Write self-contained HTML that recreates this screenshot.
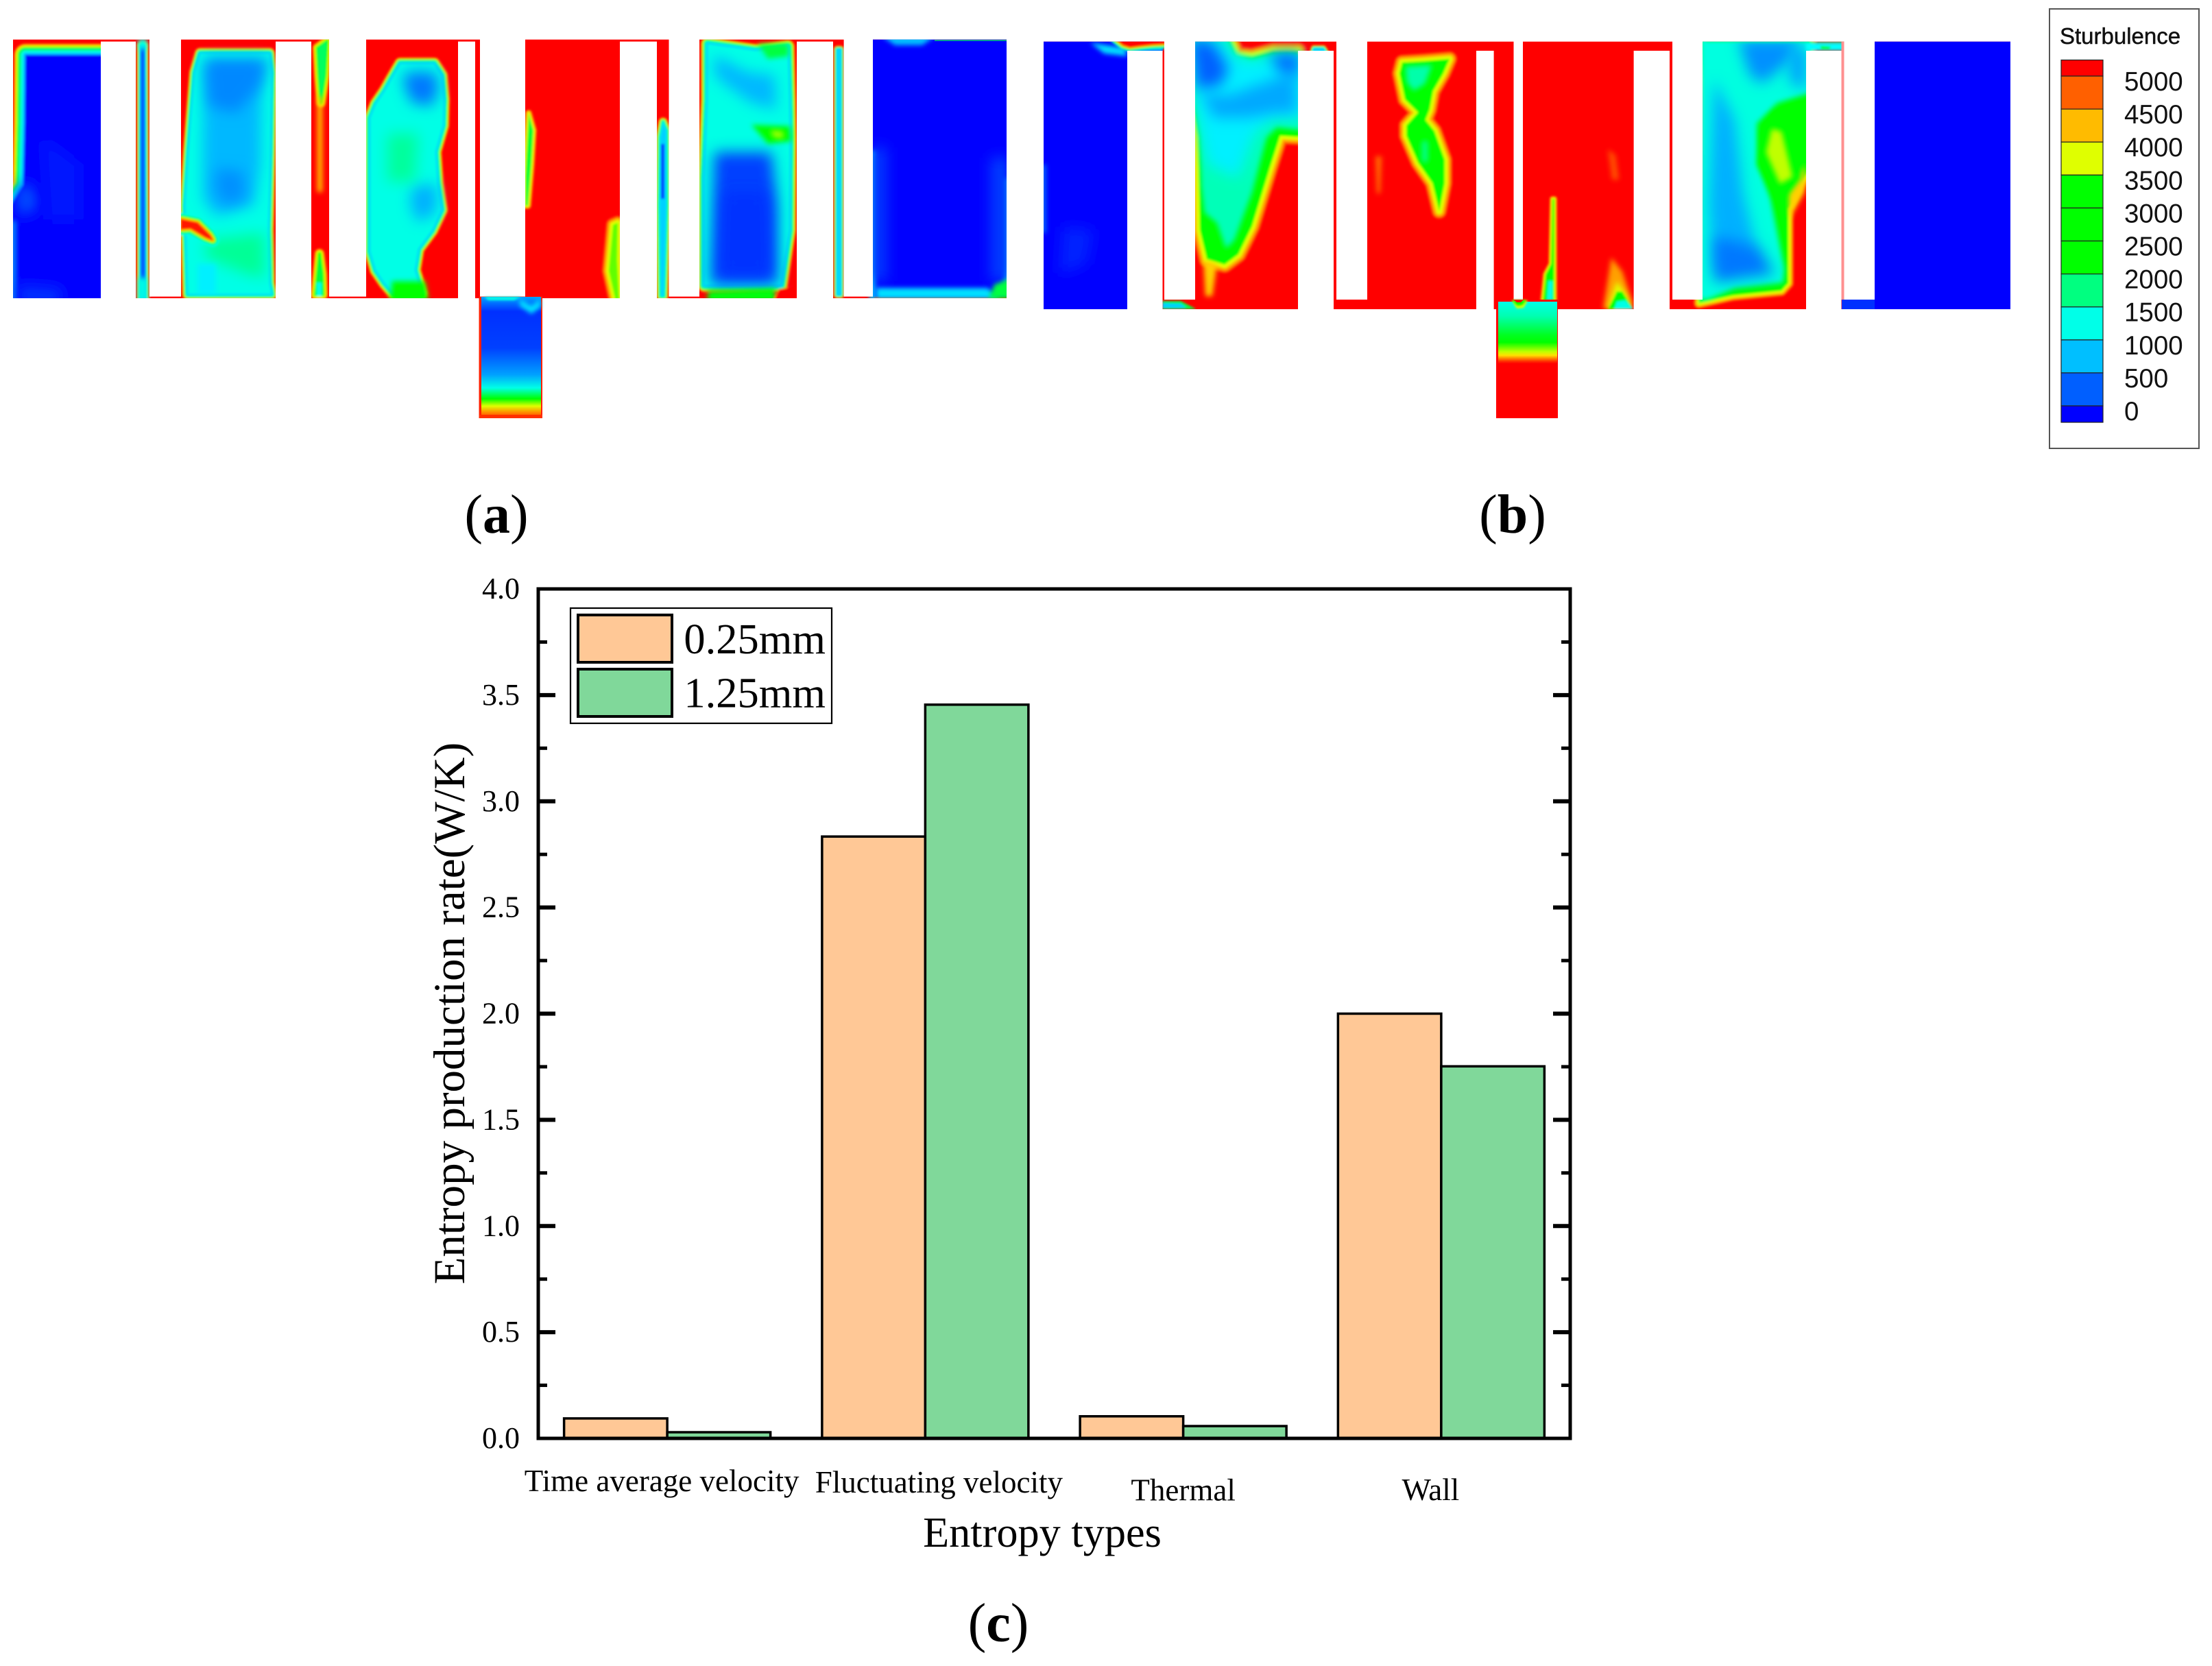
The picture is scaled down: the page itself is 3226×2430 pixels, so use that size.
<!DOCTYPE html>
<html lang="en">
<head>
<meta charset="utf-8">
<title>Turbulence contours and entropy production</title>
<style>
html,body{margin:0;padding:0;background:#fff;}
svg{display:block;}
.serif{font-family:"Liberation Serif","Times New Roman",serif;fill:#000;}
.sans{font-family:"Liberation Sans",Arial,sans-serif;fill:#111;}
.blob{stroke-linejoin:round;}
</style>
</head>
<body>
<svg id="fig" xmlns="http://www.w3.org/2000/svg" width="3226" height="2430" viewBox="0 0 3226 2430">
<defs>
<filter id="blur" filterUnits="userSpaceOnUse" x="0" y="0" width="3226" height="700"><feGaussianBlur stdDeviation="1.5"/></filter>
<filter id="soft" filterUnits="userSpaceOnUse" x="0" y="0" width="3226" height="700"><feGaussianBlur stdDeviation="10"/></filter>
<filter id="soft2" filterUnits="userSpaceOnUse" x="0" y="0" width="3226" height="700"><feGaussianBlur stdDeviation="3.5"/></filter>
<clipPath id="clip-a"><rect x="19" y="57.6" width="1449" height="377.4"/></clipPath>
<clipPath id="clip-b"><rect x="1522" y="60.6" width="1410" height="390.4"/></clipPath>
<linearGradient id="box-a-grad" gradientUnits="userSpaceOnUse" x1="0" y1="433" x2="0" y2="610">
<stop offset="0" stop-color="#00a0ff"/><stop offset=".12" stop-color="#0030ff"/><stop offset=".42" stop-color="#0040ff"/><stop offset=".64" stop-color="#00a0ff"/><stop offset=".75" stop-color="#00ffe6"/><stop offset=".84" stop-color="#00ff00"/><stop offset=".9" stop-color="#e0ff00"/><stop offset=".95" stop-color="#ff9000"/><stop offset="1" stop-color="#ff3000"/>
</linearGradient>
<linearGradient id="box-b-grad" gradientUnits="userSpaceOnUse" x1="0" y1="437" x2="0" y2="610">
<stop offset="0" stop-color="#00fff0"/><stop offset=".14" stop-color="#00ffb0"/><stop offset=".3" stop-color="#00ff20"/><stop offset=".36" stop-color="#00ff00"/><stop offset=".44" stop-color="#c0ff00"/><stop offset=".47" stop-color="#ffe000"/><stop offset=".52" stop-color="#ff3000"/><stop offset=".54" stop-color="#ff0000"/><stop offset="1" stop-color="#ff0000"/>
</linearGradient>
</defs>
<rect x="0" y="0" width="3226" height="2430" fill="#fff"/>

<!-- PANEL A -->
<g>
<g clip-path="url(#clip-a)">
<rect x="19" y="57.6" width="1449" height="377.4" fill="#ff0000"/>

<g filter="url(#blur)">
<path class="blob" data-w="1" fill="#0000ff" d="M37,80 L165,80 L165,475 L0,475 L0,345 L15,300 L34,270 L36,180 Z"/>
<path fill="#0050ff" filter="url(#soft)" d="M24,268 L50,272 L56,305 L30,315 L24,310 Z"/>
<path fill="#0018ff" filter="url(#soft)" d="M62,200 L115,240 L115,320 L70,320 Z"/>
<path fill="#00a0ff" filter="url(#soft2)" d="M16,322 L23,322 L23,440 L16,440 Z"/>
<path fill="#0030ff" filter="url(#soft)" d="M25,415 L90,420 L90,445 L25,445 Z"/>
</g>

<g filter="url(#blur)">
<path class="blob" data-w=".34" fill="#0060ff" d="M205,66 L211,66 L212,400 L212,440 L205,440 Z"/>
<path fill="#00ffe6" filter="url(#soft2)" d="M202,56 L214,56 L214,72 L202,72 Z"/>
<path fill="#00ffe6" filter="url(#soft2)" d="M201,405 L215,405 L215,440 L201,440 Z"/>
</g>

<g filter="url(#blur)">
<path class="blob" data-w=".5" fill="#00ffe6" d="M292,78 L393,78 L396,106 L394,221 L391,336 L393,413 L396,429 L274,429 L272,360 L270,300 L275,221 L284,106 Z"/>
<path fill="#00b8ff" filter="url(#soft)" d="M298,95 L382,95 L380,240 L370,300 L315,315 L296,290 L296,200 Z"/>
<path fill="#0088ff" filter="url(#soft)" d="M298,85 L392,85 L380,125 L345,165 L305,155 Z"/>
<path fill="#0090ff" filter="url(#soft)" d="M316,245 L355,250 L358,290 L328,300 L314,278 Z"/>
<path fill="#00ff96" filter="url(#soft)" d="M300,350 L385,340 L386,405 L360,400 L300,375 Z"/>
<path fill="#00f0ff" filter="url(#soft2)" d="M288,385 L315,385 L315,428 L288,428 Z"/>
<path class="blob" data-hot="1" data-w=".8" fill="#ff1800" d="M264,320 L288,325 L306,343 L310,350 L300,346 L278,333 L264,334 Z"/>
</g>

<g filter="url(#blur)">
<path class="blob" data-from="3" data-w="1" fill="#00ff60" d="M463,70 L477,60 L474,110 L468,150 L465,110 Z"/>
<path fill="#ffd000" filter="url(#soft2)" d="M463,140 L470,140 L470,280 L463,280 Z"/>
<path class="blob" data-from="3" data-w="1" fill="#00ff40" d="M466,370 L470,400 L471,430 L460,430 L463,400 Z"/>
<path fill="#00ffe6" d="M462,412 L469,412 L469,432 L462,432 Z"/>
</g>

<g filter="url(#blur)">
<path class="blob" data-w=".55" fill="#00ffe6" d="M584,93 L633,93 L644,110 L647,145 L646,183 L635,221 L638,267 L644,306 L630,336 L610,363 L605,394 L615,428 L574,428 L561,413 L548,394 L540,367 L540,260 L540,172 L548,152 L561,133 L574,110 Z"/>
<path fill="#0078ff" filter="url(#soft)" d="M592,105 L635,105 L640,130 L630,155 L600,150 L588,120 Z"/>
<path fill="#00b0ff" filter="url(#soft)" d="M602,270 L638,270 L636,310 L610,325 L598,300 Z"/>
<path fill="#00ff9c" filter="url(#soft)" d="M565,195 L610,195 L605,265 L565,265 Z"/>
<path fill="#00ff00" filter="url(#soft2)" d="M572,410 L620,410 L625,440 L568,440 Z"/>
</g>

<g filter="url(#blur)">
<path class="blob" data-from="4" data-w="1" fill="#00ff30" d="M771,165 L778,190 L775,240 L770,300 L766,300 L766,260 L769,200 Z"/>
<path class="blob" data-from="4" data-w="2" fill="#60ff00" d="M894,328 L901,325 L900,380 L903,440 L898,440 L888,395 Z"/>
</g>

<g filter="url(#blur)">
<path class="blob" data-from="1" data-w=".5" fill="#00d0ff" d="M967,178 L972,190 L972,300 L968,432 L964,432 L962,300 L963,200 Z"/>
<path fill="#0030ff" d="M964,210 L969,210 L969,290 L964,290 Z"/>
</g>

<g filter="url(#blur)">
<path class="blob" data-w=".6" fill="#00ffe6" d="M1032,64 L1103,74 L1149,68 L1151,145 L1152,202 L1151,336 L1139,416 L1027,416 L1027,260 L1032,145 Z"/>
<path fill="#00b8ff" filter="url(#soft)" d="M1042,80 L1090,105 L1130,110 L1132,160 L1095,150 L1060,125 L1042,110 Z"/>
<path fill="#0040ff" filter="url(#soft)" d="M1042,222 L1125,222 L1134,300 L1134,415 L1036,415 Z"/>
<path fill="#0030ff" filter="url(#soft)" d="M1056,280 L1118,280 L1122,400 L1052,400 Z"/>
<path fill="#00ff40" filter="url(#soft2)" d="M1105,64 L1150,64 L1150,82 L1120,86 Z"/>
<path fill="#00ff00" filter="url(#soft2)" d="M1096,182 L1152,184 L1154,206 L1120,210 Z"/>
<path fill="#a0ff00" filter="url(#soft2)" d="M1124,190 L1142,192 L1142,202 L1128,200 Z"/>
<path fill="#00ff10" filter="url(#soft2)" d="M1032,424 L1130,420 L1132,440 L1032,440 Z"/>
<path fill="#ff0000" d="M1136,422 L1168,416 L1168,440 L1128,440 Z"/>
</g>

<g filter="url(#blur)">
<path class="blob" data-w=".32" fill="#00d8ff" d="M1221,72 L1226,72 L1226,430 L1221,430 Z"/>
</g>

<g>
<rect x="1273" y="57.6" width="195" height="375" fill="#0000ff"/>
<path fill="#00c0ff" filter="url(#soft2)" d="M1285,52 L1365,52 L1345,66 L1305,66 Z"/>
<path fill="#00a090" d="M1363,58 L1468,58 L1468,60 L1363,60 Z"/>
<path fill="#00c0ff" filter="url(#soft2)" d="M1268,220 L1277,220 L1277,440 L1268,440 Z"/>
<path fill="#00c0ff" filter="url(#soft2)" d="M1464,260 L1474,260 L1474,415 L1464,415 Z"/>
<path fill="#0040ff" filter="url(#soft)" d="M1270,215 L1292,215 L1292,410 L1270,410 Z"/>
<path fill="#0040ff" filter="url(#soft)" d="M1445,230 L1472,230 L1472,410 L1445,410 Z"/>
<path fill="#00e0ff" filter="url(#soft2)" d="M1278,420 L1440,420 L1460,436 L1278,436 Z"/>
<path fill="#00ff40" filter="url(#soft2)" d="M1450,415 L1474,406 L1474,436 L1442,436 Z"/>
</g>
</g>

<g fill="#fff">
<rect x="147" y="60.6" width="51" height="375"/>
<rect x="218" y="56" width="46" height="376.6"/>
<rect x="402" y="60.6" width="52" height="375"/>
<rect x="480" y="56" width="54" height="376.6"/>
<rect x="668" y="60.6" width="25" height="375"/>
<rect x="700" y="56" width="66" height="376.6"/>
<rect x="904" y="60.6" width="54" height="375"/>
<rect x="975.5" y="56" width="44.5" height="376.6"/>
<rect x="1162" y="60.6" width="53" height="375"/>
<rect x="1230.6" y="56" width="42.4" height="376.6"/>
</g>

<g>
<rect x="698.5" y="432.6" width="92.5" height="177.4" fill="#ff2000"/>
<rect x="702" y="433" width="87" height="172" fill="url(#box-a-grad)"/>
<path fill="#00ffe6" filter="url(#blur)" d="M706,433 L760,433 L750,438 L712,438 Z"/>
<path fill="#00e0ff" filter="url(#soft2)" d="M758,436 L775,446 L788,436 L788,448 L775,458 L758,446 Z"/>
<rect x="699" y="605" width="92" height="5" fill="#ff3000"/>
</g>
</g>

<!-- PANEL B -->
<g>
<g clip-path="url(#clip-b)">
<rect x="1522" y="60.6" width="1410" height="390.4" fill="#ff0000"/>

<g>
<rect x="1522" y="60.6" width="173.5" height="390.4" fill="#0000ff"/>
<rect x="1644" y="66" width="52" height="8" fill="#00c0ff" filter="url(#blur)"/>
<path fill="#00e0ff" filter="url(#soft2)" d="M1590,62 L1640,70 L1644,82 L1610,78 Z"/>
<path fill="#0020ff" filter="url(#soft)" d="M1550,330 L1595,335 L1585,385 L1545,400 Z"/>
<path fill="#0060ff" filter="url(#soft2)" d="M1516,240 L1526,240 L1526,340 L1516,340 Z"/>
<g filter="url(#blur)"><path class="blob" data-hot="1" data-w=".55" fill="#ff0000" d="M1624,55 L1700,55 L1700,64 L1681,65 L1663,67 L1648,69 L1638,66 Z"/></g>
</g>

<g filter="url(#blur)">
<path fill="#00ff40" d="M1695,439 L1722,439 L1745,451 L1695,451 Z"/>
<path fill="#00d0ff" d="M1695,442 L1722,443 L1730,449 L1695,449 Z"/>
</g>

<g filter="url(#blur)">
<path class="blob" data-from="4" data-w="2.4" fill="#00ff00" d="M1738,55 L1793,55 L1804,80 L1826,82 L1857,74 L1893,74 L1900,200 L1867,198 L1852,245 L1826,330 L1806,371 L1786,386 L1760,378 L1750,336 L1747,200 L1738,145 Z"/>
<path fill="#ffd000" filter="url(#soft2)" d="M1755,380 L1775,385 L1768,432 L1758,432 Z"/>
<path fill="#00ffb8" filter="url(#soft2)" d="M1738,50 L1790,50 L1802,78 L1826,86 L1857,78 L1900,78 L1900,190 L1862,185 L1847,200 L1826,280 L1800,350 L1788,362 L1775,325 L1757,310 L1752,270 L1750,200 L1740,150 Z"/>
<path fill="#00f0ff" filter="url(#soft)" d="M1740,58 L1786,58 L1798,82 L1826,90 L1857,82 L1900,82 L1900,175 L1858,172 L1830,195 L1805,260 L1762,240 L1752,200 L1742,140 Z"/>
<path fill="#00a8ff" filter="url(#soft)" d="M1752,135 L1790,140 L1830,125 L1890,105 L1892,165 L1860,165 L1820,172 L1770,172 Z"/>
<path fill="#0060ff" filter="url(#soft)" d="M1735,55 L1770,62 L1792,100 L1780,125 L1745,130 Z"/>
<path fill="#0070ff" filter="url(#soft)" d="M1850,78 L1896,76 L1894,110 L1868,108 Z"/>
</g>

<g filter="url(#blur)">
<path class="blob" data-from="1" data-w=".3" fill="#00d0ff" d="M1916,70 L1930,70 L1934,76 L1914,76 Z"/>
</g>

<g filter="url(#blur)">
<path class="blob" data-from="4" data-w="2.2" fill="#00ff00" d="M2045,91 L2077,89 L2114,86 L2105,107 L2090,133 L2085,160 L2079,175 L2092,191 L2107,233 L2107,267 L2099,308 L2089,267 L2068,237 L2051,198 L2051,183 L2068,164 L2049,145 L2041,107 Z"/>
<path fill="#00ffaa" filter="url(#soft2)" d="M2050,97 L2088,95 L2078,122 L2062,132 L2052,120 Z"/>
<path fill="#00ff90" d="M2074,206 L2082,206 L2082,236 L2074,236 Z" filter="url(#soft2)"/>
<path fill="#ff7000" filter="url(#soft2)" d="M2006,228 L2015,228 L2013,282 L2008,282 Z"/>
</g>

<g filter="url(#blur)">
<path class="blob" data-from="4" data-w=".8" fill="#00ff00" d="M2264,290 L2267,290 L2267,440 L2250,440 L2254,400 L2262,385 Z"/>
<path fill="#00ffe6" d="M2258,410 L2264,410 L2264,437 L2256,437 Z"/>
<path fill="#ff5000" filter="url(#soft2)" d="M2345,218 L2356,226 L2361,262 L2351,262 Z"/>
<path fill="#ffa000" filter="url(#soft2)" d="M2350,376 L2366,396 L2382,445 L2338,451 Z"/>
<path fill="#e0ff00" filter="url(#soft2)" d="M2358,410 L2372,430 L2380,451 L2344,451 Z"/>
<path fill="#00ff00" d="M2358,425 L2366,425 L2382,451 L2345,451 Z"/>
<path fill="#00ffe6" d="M2358,440 L2370,438 L2382,451 L2354,451 Z"/>
</g>

<g filter="url(#blur)">
<path class="blob" data-from="4" data-w="1.6" fill="#00ff00" d="M2478,55 L2640,55 L2640,244 L2623,275 L2608,305 L2608,413 L2598,424 L2527,431 L2501,437 L2478,442 L2487,298 L2487,145 Z"/>
<path fill="#ffd000" filter="url(#soft2)" d="M2607,280 L2622,262 L2632,240 L2632,280 L2615,310 L2610,320 Z"/>
<path fill="#00ffe0" filter="url(#soft2)" d="M2480,55 L2640,55 L2640,135 L2592,150 L2562,180 L2564,240 L2582,290 L2602,392 L2600,412 L2530,420 L2490,437 L2478,437 Z"/>
<path fill="#00b0ff" filter="url(#soft)" d="M2500,115 L2530,175 L2542,280 L2562,365 L2500,400 L2492,300 Z"/>
<path fill="#0090ff" filter="url(#soft)" d="M2535,58 L2625,58 L2610,90 L2570,122 L2552,110 Z"/>
<path fill="#00a0ff" filter="url(#soft)" d="M2610,70 L2634,70 L2634,130 L2610,120 Z"/>
<path fill="#0078ff" filter="url(#soft)" d="M2500,345 L2565,360 L2588,400 L2500,412 Z"/>
<path fill="#00ff00" filter="url(#soft2)" d="M2588,158 L2606,175 L2626,260 L2608,285 L2600,330 L2582,280 L2562,240 L2565,190 Z"/>
<path fill="#c0ff00" filter="url(#soft2)" d="M2584,188 L2598,192 L2614,258 L2596,268 L2576,222 Z"/>
<path fill="#00ffff" filter="url(#blur)" d="M2634,62 L2690,62 L2690,74 L2634,74 Z"/>
<path fill="#00ff20" d="M2655,67 L2670,68 L2668,72 L2656,72 Z"/>
<path fill="#00ff40" d="M2488,60.6 L2690,60.6 L2690,62 L2488,62 Z"/>
</g>

<g>
<rect x="2685.5" y="60.6" width="4" height="376.4" fill="#ff9090"/>
<rect x="2686" y="437" width="48" height="14" fill="#0030ff"/>
</g>

<g>
<rect x="2734" y="60.6" width="198" height="390.4" fill="#0000ff"/>
</g>
</g>

<g fill="#fff">
<rect x="1644" y="74" width="51.5" height="378"/>
<rect x="1698" y="59" width="45" height="378"/>
<rect x="1893" y="74" width="52" height="378"/>
<rect x="1949" y="59" width="45" height="378"/>
<rect x="2153" y="74" width="25.6" height="378"/>
<rect x="2207.5" y="59" width="13.5" height="378"/>
<rect x="2382.6" y="74" width="52.4" height="378"/>
<rect x="2439" y="59" width="44" height="378"/>
<rect x="2634" y="74" width="51.5" height="378"/>
<rect x="2689.5" y="59" width="44.5" height="378"/>
</g>

<g>
<rect x="2182" y="437" width="90" height="173" fill="#ff0000"/>
<rect x="2185" y="440" width="86" height="100" fill="url(#box-b-grad)"/>
<path fill="#e0ff00" filter="url(#blur)" d="M2205,438 L2228,438 L2222,449 L2212,450 Z"/>
<path fill="#00ff00" filter="url(#blur)" d="M2205,438 L2226,438 L2220,445 L2213,446 Z"/>
<path fill="#ff0000" d="M2207,437 L2222,437 L2218,441 L2212,441 Z"/>
</g>
</g>

<!-- LEGEND FOR CONTOURS -->
<g id="colorbar">
<rect x="2989" y="13" width="218" height="641" fill="#fff" stroke="#555" stroke-width="2"/>
<text class="sans" x="3004" y="64" font-size="33" stroke="#111" stroke-width=".5">Sturbulence</text>
</g>

<!-- PANEL LABELS -->
<text class="serif" x="724" y="777" font-size="80" text-anchor="middle">(<tspan font-weight="bold">a</tspan>)</text>
<text class="serif" x="2206" y="777" font-size="80" text-anchor="middle">(<tspan font-weight="bold">b</tspan>)</text>
<text class="serif" x="1456" y="2394" font-size="80" text-anchor="middle">(<tspan font-weight="bold">c</tspan>)</text>

<!-- BAR CHART -->
<g id="chart"></g>
<text class="serif" transform="rotate(-90 677 1478)" x="677" y="1478" font-size="65" text-anchor="middle">Entropy production rate(W/K)</text>
<text class="serif" x="1520" y="2256" font-size="62.3" text-anchor="middle">Entropy types</text>
</svg>

<script>
/* chart data */
const categories = ["Time average velocity", "Fluctuating velocity", "Thermal", "Wall"];
const seriesNames = ["0.25mm", "1.25mm"];
const series025 = [0.094, 2.834, 0.104, 2.0];
const series125 = [0.029, 3.455, 0.058, 1.752];
const yTickValues = [0, 0.5, 1, 1.5, 2, 2.5, 3, 3.5, 4];
const yTickLabels = ["0.0", "0.5", "1.0", "1.5", "2.0", "2.5", "3.0", "3.5", "4.0"];
const contourLevels = [5000, 4500, 4000, 3500, 3000, 2500, 2000, 1500, 1000, 500, 0];
const contourColors = ["#ff0000", "#ff6000", "#ffbb00", "#dfff00", "#00ff00", "#00ff00", "#00ff00", "#00ff80", "#00ffe8", "#00bfff", "#005fff", "#0000ff"];

const NS = "http://www.w3.org/2000/svg";
function mk(parent, tag, attrs, text) {
  const el = document.createElementNS(NS, tag);
  for (const k in attrs) el.setAttribute(k, attrs[k]);
  if (text !== undefined) el.textContent = text;
  parent.appendChild(el);
  return el;
}

/* contour bands around traced shapes */
const coldBands = [["#00bfff", 3], ["#00ffe6", 6], ["#00ff80", 9], ["#00ff00", 11.5], ["#e0ff00", 13.5], ["#ffb000", 15], ["#ff6000", 16.5]];
const hotBands = [["#ff6000", 1.5], ["#ffb000", 3], ["#e0ff00", 4.5], ["#00ff00", 7], ["#00ff80", 9], ["#00ffe6", 12]];
document.querySelectorAll("path.blob").forEach(function (p) {
  const w = parseFloat(p.getAttribute("data-w") || "1");
  const from = parseInt(p.getAttribute("data-from") || "0", 10);
  const list = p.hasAttribute("data-hot") ? hotBands : coldBands;
  const base = from > 0 ? list[from - 1][1] : 0;
  for (let i = list.length - 1; i >= from; i--) {
    const band = document.createElementNS(NS, "path");
    band.setAttribute("d", p.getAttribute("d"));
    band.setAttribute("fill", "none");
    band.setAttribute("stroke", list[i][0]);
    band.setAttribute("stroke-width", 2 * w * (list[i][1] - base));
    band.setAttribute("stroke-linejoin", "round");
    
    
    p.parentNode.insertBefore(band, p);
  }
  
  
});

/* contour legend */
const cb = document.getElementById("colorbar");
const levelY = function (v) { return 592 - (v / 5000) * 481; };
contourColors.forEach(function (c, i) {
  const top = i === 0 ? levelY(contourLevels[0]) - 23.5 : levelY(contourLevels[i - 1]);
  const bot = i === contourLevels.length ? levelY(0) + 24 : levelY(contourLevels[i]);
  const seg = mk(cb, "rect", { x: 3006, y: top, width: 61, height: bot - top, fill: c, stroke: "#222", "stroke-width": 1.2 });
  
  
});
contourLevels.forEach(function (v) {
  const t = mk(cb, "text", { x: 3098, y: levelY(v) + 21, "font-size": 38.5, class: "sans" }, String(v));
  
  
});

/* bar chart */
const chart = document.getElementById("chart");
const plotLeft = 785, plotRight = 2290, plotTop = 859, plotBottom = 2098, yMax = 4;
const yScale = function (v) { return plotBottom - (v / yMax) * (plotBottom - plotTop); };
const xBand = (plotRight - plotLeft) / categories.length;
const xCenter = function (i) { return plotLeft + (i + 0.5) * xBand; };
const barWidth = xBand * 0.4;
const seriesColors = ["#ffc896", "#80d89a"];
const labelShiftX = [-8, 20, 0, -15.5];
const labelBaseline = [2175, 2177, 2188.5, 2188];

categories.forEach(function (name, i) {
  [series025, series125].forEach(function (vals, s) {
    const y = yScale(vals[i]);
    const bar = mk(chart, "rect", {
      x: xCenter(i) - barWidth + s * barWidth, y: y, width: barWidth, height: plotBottom - y,
      fill: seriesColors[s], stroke: "#000", "stroke-width": 3.5
    });
    
    
  });
  const lab = mk(chart, "text", { x: xCenter(i) + labelShiftX[i], y: labelBaseline[i], "font-size": 45, "text-anchor": "middle", class: "serif" }, name);
  
  
});

yTickValues.forEach(function (v, i) {
  const y = yScale(v);
  const lab = mk(chart, "text", { x: 758, y: y + 14, "font-size": 44, "text-anchor": "end", class: "serif" }, yTickLabels[i]);
  
  
  if (i > 0 && i < yTickValues.length - 1) {
    const tl = mk(chart, "line", { x1: plotLeft, x2: plotLeft + 25, y1: y, y2: y, stroke: "#000", "stroke-width": 6 });
    
    
    const tr = mk(chart, "line", { x1: plotRight, x2: plotRight - 25, y1: y, y2: y, stroke: "#000", "stroke-width": 6 });
    
    
  }
  if (i > 0) {
    const ym = yScale((v + yTickValues[i - 1]) / 2);
    const ml = mk(chart, "line", { x1: plotLeft, x2: plotLeft + 13, y1: ym, y2: ym, stroke: "#000", "stroke-width": 5 });
    
    
    const mr = mk(chart, "line", { x1: plotRight, x2: plotRight - 13, y1: ym, y2: ym, stroke: "#000", "stroke-width": 5 });
    
    
  }
});

const frame = mk(chart, "rect", { x: plotLeft, y: plotTop, width: plotRight - plotLeft, height: plotBottom - plotTop, fill: "none", stroke: "#000", "stroke-width": 5 });



const legendBox = mk(chart, "rect", { x: 832, y: 887, width: 381, height: 168, fill: "#fff", stroke: "#000", "stroke-width": 2.2 });


seriesNames.forEach(function (name, s) {
  const sw = mk(chart, "rect", { x: 843, y: 897 + s * 79, width: 137, height: 69, fill: seriesColors[s], stroke: "#000", "stroke-width": 4 });
  
  
  const t = mk(chart, "text", { x: 1204, y: 953 + s * 78.7, "font-size": 62.5, "text-anchor": "end", class: "serif" }, name);
  
  
});
</script>
</body>
</html>
